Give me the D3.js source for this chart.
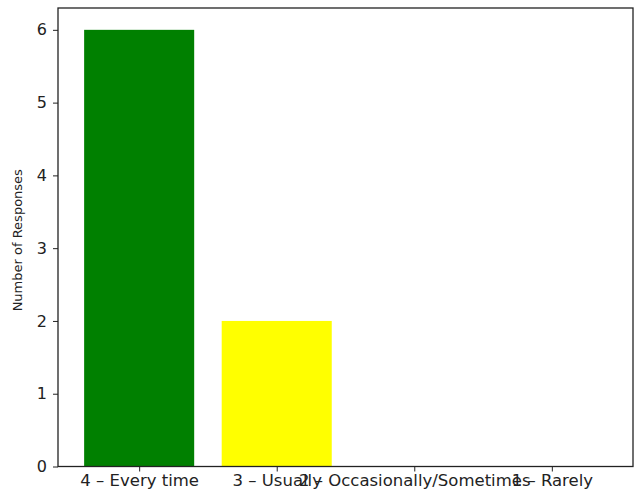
<!DOCTYPE html>
<html><head><meta charset="utf-8">
<script src="https://cdn.jsdelivr.net/npm/d3@7"></script>
<style>body{margin:0;background:#fff}svg{display:block}text{font-family:"DejaVu Sans",sans-serif;fill:#222}</style>
</head><body>
<svg id="c" width="636" height="495"></svg>
<script>
const categories = ["4 – Every time", "3 – Usually", "2 – Occasionally/Sometimes", "1 – Rarely"];
const values = [6, 2, 0, 0];
const colors = ["#008000", "#ffff00", "#1f77b4", "#1f77b4"];
const yTicks = [0, 1, 2, 3, 4, 5, 6];

const svg = d3.select("#c");
const L = 58, R = 633, T = 8, B = 466.5;
const x = d3.scaleLinear().domain([-0.59, 3.59]).range([L, R]);
const y = d3.scaleLinear().domain([0, 6.3]).range([B, T]);

svg.selectAll("rect.bar").data(values).join("rect")
  .attr("class", "bar")
  .attr("x", (d, i) => x(i - 0.4))
  .attr("width", (d, i) => x(i + 0.4) - x(i - 0.4))
  .attr("y", d => y(d))
  .attr("height", d => y(0) - y(d))
  .attr("fill", (d, i) => colors[i]);

const yAxis = svg.append("g").attr("transform", `translate(${L},0)`)
  .call(d3.axisLeft(y).tickValues(yTicks).tickFormat(d3.format("d")).tickSize(5).tickPadding(6));
yAxis.select(".domain").remove();
yAxis.selectAll("text").style("font-size", "16px").attr("fill", "#222");
yAxis.selectAll("line").attr("stroke", "#222");

const xAxis = svg.append("g").attr("transform", `translate(0,${B})`)
  .call(d3.axisBottom(x).tickValues([0, 1, 2, 3]).tickFormat(i => categories[i]).tickSize(5).tickPadding(3));
xAxis.select(".domain").remove();
xAxis.selectAll("text").style("font-size", "16.5px").attr("fill", "#222");
xAxis.selectAll("line").attr("stroke", "#222");

svg.append("rect").attr("x", L).attr("y", T).attr("width", R - L).attr("height", B - T)
  .attr("fill", "none").attr("stroke", "#222").attr("stroke-width", 1.3);

svg.append("text")
  .attr("transform", `translate(22,${(T + B) / 2 + 3}) rotate(-90)`)
  .attr("text-anchor", "middle")
  .style("font-size", "13px")
  .text("Number of Responses");
</script>
</body></html>
